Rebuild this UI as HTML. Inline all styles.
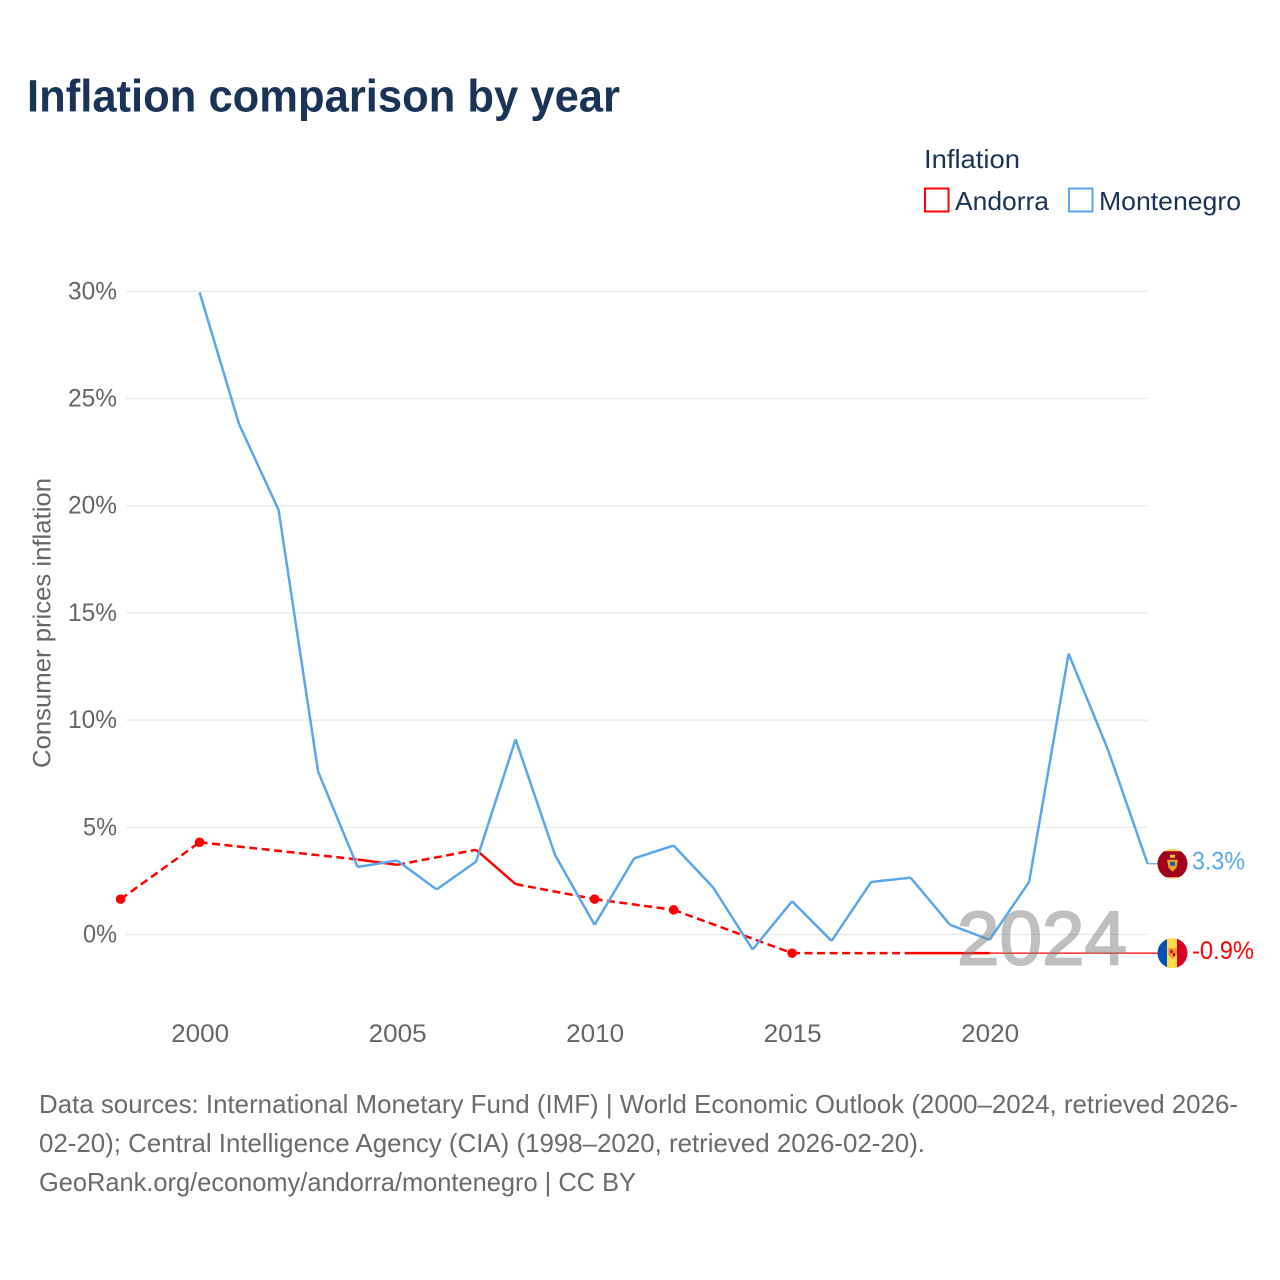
<!DOCTYPE html>
<html lang="en">
<head>
<meta charset="utf-8">
<title>Inflation comparison by year</title>
<style>
html,body{margin:0;padding:0;background:#fff;}
svg{display:block;font-family:"Liberation Sans",sans-serif;}
</style>
</head>
<body>
<svg id="chart" xmlns="http://www.w3.org/2000/svg" width="1280" height="1280" viewBox="0 0 1280 1280">
  <rect x="0" y="0" width="1280" height="1280" fill="#ffffff"/>
  <text x="27" y="111.500" font-size="45" font-weight="700" fill="#1a3357" textLength="593" lengthAdjust="spacingAndGlyphs">Inflation comparison by year</text>

  <g>
    <text x="924" y="168" font-size="26" fill="#1a3357" textLength="96" lengthAdjust="spacingAndGlyphs">Inflation</text>
    <rect x="925" y="188.500" width="23.500" height="23" fill="#fff" stroke="#ff0000" stroke-width="2"/>
    <text x="955" y="210" font-size="26" fill="#1a3357" textLength="94" lengthAdjust="spacingAndGlyphs">Andorra</text>
    <rect x="1069" y="188.500" width="23.500" height="23" fill="#fff" stroke="#5ba7ee" stroke-width="2"/>
    <text x="1099" y="210" font-size="26" fill="#1a3357" textLength="142" lengthAdjust="spacingAndGlyphs">Montenegro</text>
  </g>

  <g id="grid"></g>
  <g id="yticks"></g>
  <g id="xticks"></g>
  <text transform="translate(50.500,768) rotate(-90)" font-size="25" fill="#666666" textLength="290" lengthAdjust="spacingAndGlyphs">Consumer prices inflation</text>

  <g id="series"></g>

  <text x="957" y="964.500" font-size="76" fill="#808080" stroke="#808080" stroke-width="2" opacity="0.5" textLength="170" lengthAdjust="spacingAndGlyphs">2024</text>

  <defs>
    <clipPath id="clip-me"><circle cx="1172.500" cy="862" r="15"/></clipPath>
    <clipPath id="clip-ad"><circle cx="1172.500" cy="953" r="15"/></clipPath>
  </defs>
  <g id="flag-me">
    <g clip-path="url(#clip-me)">
      <rect x="1157" y="847" width="31" height="31" fill="#ffd45c"/>
      <rect x="1157" y="849.500" width="31" height="26" fill="#a2001d"/>
      <rect x="1170" y="853" width="5" height="3" fill="#ffc83d"/>
      <path d="M1167 858h11l-1.500 8-4 4-4-4z" fill="#e8a72a"/>
      <rect x="1170" y="860" width="5" height="4" fill="#1b5fa8"/>
    </g>
  </g>
  <g id="flag-ad">
    <g clip-path="url(#clip-ad)">
      <rect x="1157" y="938" width="11" height="31" fill="#0052b4"/>
      <rect x="1167" y="938" width="11" height="31" fill="#ffda44"/>
      <rect x="1177" y="938" width="11" height="31" fill="#d80027"/>
      <path d="M1168 948h9v6l-4.500 5-4.500-5z" fill="#f09a28"/>
      <rect x="1170" y="950" width="3" height="3" fill="#c8102e"/>
      <rect x="1173" y="953" width="2" height="3" fill="#a2001d"/>
    </g>
  </g>
  <text id="label-me" x="1192" y="869" font-size="25" fill="#5ba7ee" textLength="53" lengthAdjust="spacingAndGlyphs">3.3%</text>
  <text id="label-ad" x="1192" y="959" font-size="25" fill="#ff0000" textLength="62" lengthAdjust="spacingAndGlyphs">-0.9%</text>

  <g font-size="26" fill="#6b6b6b">
    <text x="39" y="1113" textLength="1199" lengthAdjust="spacingAndGlyphs">Data sources: International Monetary Fund (IMF) | World Economic Outlook (2000–2024, retrieved 2026-</text>
    <text x="39" y="1152" textLength="886" lengthAdjust="spacingAndGlyphs">02-20); Central Intelligence Agency (CIA) (1998–2020, retrieved 2026-02-20).</text>
    <text x="39" y="1191" textLength="597" lengthAdjust="spacingAndGlyphs">GeoRank.org/economy/andorra/montenegro | CC BY</text>
  </g>
</svg>
<script>
const years = [1998,1999,2000,2001,2002,2003,2004,2005,2006,2007,2008,2009,2010,2011,2012,2013,2014,2015,2016,2017,2018,2019,2020,2021,2022,2023,2024];
const andorra = [1.65,null,4.3,null,null,null,3.5,3.25,null,3.95,2.35,null,1.65,null,1.15,null,null,-0.87,null,null,-0.87,-0.87,-0.87,null,null,null,null];
const montenegro = [null,null,29.95,23.8,19.8,7.6,3.15,3.45,2.1,3.4,9.1,3.7,0.45,3.55,4.15,2.2,-0.7,1.55,-0.3,2.45,2.65,0.45,-0.25,2.45,13.1,8.6,3.3];
const yTickValues = [0,5,10,15,20,25,30];
const xTickValues = [2000,2005,2010,2015,2020];
const latestYear = 2024;

const NS = 'http://www.w3.org/2000/svg';
const RED = '#ff0000';
const BLUE = '#5ba7ee';
const xScale = function (year) { return 199.6 + (year - 2000) * 39.5; };
const yScale = function (value) { return 934.5 - value * 21.44; };

function make(parent, tag, attrs) {
  const el = document.createElementNS(NS, tag);
  Object.keys(attrs).forEach(function (key) { el.setAttribute(key, attrs[key]); });
  parent.appendChild(el);
  return el;
}

const grid = document.getElementById('grid');
const yticks = document.getElementById('yticks');
const xticks = document.getElementById('xticks');
const series = document.getElementById('series');

yTickValues.forEach(function (v) {
  const line = make(grid, 'line', {x1: 126, x2: 1148, y1: yScale(v), y2: yScale(v), stroke: '#e8e8e8', 'stroke-width': 1.2});
  
  
  const label = make(yticks, 'text', {x: 117, y: yScale(v) + 8, 'text-anchor': 'end', 'font-size': 25, fill: '#666666'});
  
  
  label.textContent = v + '%';
  label.setAttribute('textLength', v < 10 ? 34 : 49);
  label.setAttribute('lengthAdjust', 'spacingAndGlyphs');
});

xTickValues.forEach(function (year) {
  const label = make(xticks, 'text', {x: xScale(year) + 0.6, y: 1042, 'text-anchor': 'middle', 'font-size': 25, fill: '#666666'});
  
  
  label.textContent = String(year);
  label.setAttribute('textLength', 58);
  label.setAttribute('lengthAdjust', 'spacingAndGlyphs');
});

function present(values) {
  const out = [];
  values.forEach(function (v, i) { if (v !== null) out.push({year: years[i], value: v, index: i}); });
  return out;
}

function drawSeries(values, color, name) {
  const pts = present(values);
  for (let i = 0; i < pts.length - 1; i++) {
    const a = pts[i];
    const b = pts[i + 1];
    const isGap = b.year - a.year > 1;
    const seg = make(series, 'line', {
      x1: xScale(a.year), y1: yScale(a.value), x2: xScale(b.year), y2: yScale(b.value),
      stroke: color, 'stroke-width': 2.5, 'stroke-linecap': 'butt'
    });
    
    
    if (isGap) seg.setAttribute('stroke-dasharray', '8 4.5');
  }
  pts.forEach(function (p, i) {
    const prev = pts[i - 1];
    const next = pts[i + 1];
    const hasPrev = prev && p.year - prev.year === 1;
    const hasNext = next && next.year - p.year === 1;
    if (!hasPrev && !hasNext) {
      const dot = make(series, 'circle', {cx: xScale(p.year), cy: yScale(p.value), r: 4.8, fill: color});
      
      
    }
  });
  const last = pts[pts.length - 1];
  const lead = make(series, 'line', {
    x1: xScale(last.year), y1: yScale(last.value), x2: 1158, y2: yScale(last.value),
    stroke: color, 'stroke-width': 1.2
  });
  
  
  return last;
}

const lastAd = drawSeries(andorra, RED, 'andorra');
const lastMe = drawSeries(montenegro, BLUE, 'montenegro');

function placeEnd(flagId, labelId, last, cy, baseOffset) {
  const dy = yScale(last.value) - cy;
  document.getElementById(flagId).setAttribute('transform', 'translate(0,' + dy + ')');
  const label = document.getElementById(labelId);
  label.setAttribute('y', yScale(last.value) + baseOffset);
  label.textContent = last.value.toFixed(1) + '%';
}
placeEnd('flag-ad', 'label-ad', lastAd, 953, 6);
placeEnd('flag-me', 'label-me', lastMe, 862, 6);
</script>
</body>
</html>
